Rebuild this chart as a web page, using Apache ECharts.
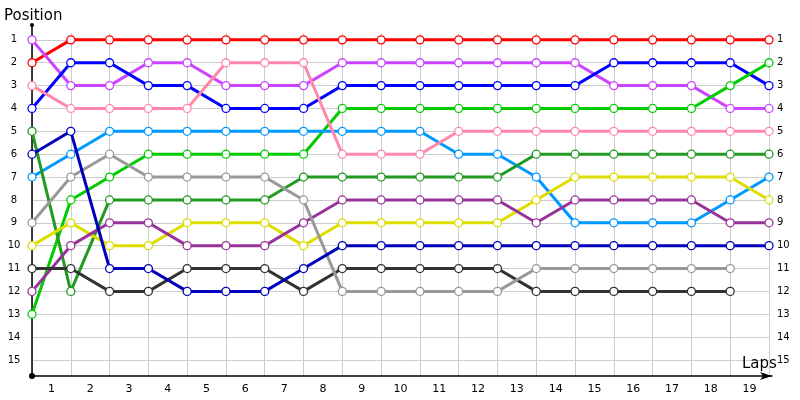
<!DOCTYPE html>
<html>
<head>
<meta charset="utf-8">
<script src="https://cdn.jsdelivr.net/npm/echarts@6/dist/echarts.min.js"></script>
<style>html,body{margin:0;padding:0;background:#fff}#chart{width:800px;height:400px}</style>
</head>
<body>
<div id="chart"></div>
<script>
// Lap points (start + laps 1..19) and the lap labels shown between them
const lapPoints = ['0','1','2','3','4','5','6','7','8','9','10','11','12','13','14','15','16','17','18','19'];
const lapLabels = ['1','2','3','4','5','6','7','8','9','10','11','12','13','14','15','16','17','18','19'];
const positionLabels = ['1','2','3','4','5','6','7','8','9','10','11','12','13','14','15'];

// Positions per driver at each lap point
const driverRed     = [2,1,1,1,1,1,1,1,1,1,1,1,1,1,1,1,1,1,1,1];
const driverViolet  = [1,3,3,2,2,3,3,3,2,2,2,2,2,2,2,3,3,3,4,4];
const driverBlue    = [4,2,2,3,3,4,4,4,3,3,3,3,3,3,3,2,2,2,2,3];
const driverGreen   = [13,8,7,6,6,6,6,6,4,4,4,4,4,4,4,4,4,4,3,2];
const driverSky     = [7,6,5,5,5,5,5,5,5,5,5,6,6,7,9,9,9,9,8,7];
const driverDkGreen = [5,12,8,8,8,8,8,7,7,7,7,7,7,6,6,6,6,6,6,6];
const driverYellow  = [10,9,10,10,9,9,9,10,9,9,9,9,9,8,7,7,7,7,7,8];
const driverPurple  = [12,10,9,9,10,10,10,9,8,8,8,8,8,9,8,8,8,8,9,9];
const driverDkGray  = [11,11,12,12,11,11,11,12,11,11,11,11,11,12,12,12,12,12,12,null];
const driverGray    = [9,7,6,7,7,7,7,8,12,12,12,12,12,11,11,11,11,11,11,null];
const driverPink    = [3,4,4,4,4,2,2,2,6,6,6,5,5,5,5,5,5,5,5,5];
const driverNavy    = [6,5,11,11,12,12,12,11,10,10,10,10,10,10,10,10,10,10,10,10];

const drivers = [
  {name:'Red', data: driverRed, color:'#ff0000'},
  {name:'Violet', data: driverViolet, color:'#cc44ff'},
  {name:'Blue', data: driverBlue, color:'#0000ff'},
  {name:'Green', data: driverGreen, color:'#00cc00'},
  {name:'Sky', data: driverSky, color:'#0099ff'},
  {name:'Dark green', data: driverDkGreen, color:'#229922'},
  {name:'Yellow', data: driverYellow, color:'#dddd00'},
  {name:'Purple', data: driverPurple, color:'#993399'},
  {name:'Dark gray', data: driverDkGray, color:'#333333'},
  {name:'Gray', data: driverGray, color:'#999999'},
  {name:'Pink', data: driverPink, color:'#ff88aa'},
  {name:'Navy', data: driverNavy, color:'#0000bb'}
];

const FONT = 'DejaVu Sans';
const isInt = v => Math.abs(v - Math.round(v)) < 1e-6;
const posFmt = v => isInt(v) && v >= 1 && v <= 15 ? positionLabels[Math.round(v) - 1] : '';

const chart = echarts.init(document.getElementById('chart'), null, {renderer:'canvas'});
chart.setOption({
  animation: false,
  backgroundColor: '#ffffff',
  title: [
    {text: 'Position', left: 4, top: 9, padding: 0, textStyle: {fontFamily: FONT, fontSize: 15, fontWeight: 'normal', color: '#000'}},
    {text: 'Laps', left: 742, top: 357, padding: 0, textStyle: {fontFamily: FONT, fontSize: 15, fontWeight: 'normal', color: '#000'}}
  ],
  grid: [
    {left: 32, right: 31, top: 33, bottom: 24},
    {left: 32, right: 28, top: 25, bottom: 24}
  ],
  xAxis: [
    {
      type: 'category', gridIndex: 0, data: lapPoints, boundaryGap: false,
      axisLine: {show: false}, axisTick: {show: false}, axisLabel: {show: false},
      splitLine: {show: true, interval: 0, lineStyle: {color: '#cccccc', width: 1}}
    },
    {
      type: 'category', gridIndex: 0, data: lapLabels, boundaryGap: true, position: 'bottom', offset: 0,
      axisLine: {show: false}, axisTick: {show: false}, splitLine: {show: false},
      axisLabel: {show: true, interval: 0, margin: 8, color: '#000', fontFamily: FONT, fontSize: 11}
    },
    {
      type: 'value', gridIndex: 1, min: 0, max: 1,
      axisLabel: {show: false}, axisTick: {show: false}, splitLine: {show: false},
      axisLine: {show: true, onZero: false, symbol: ['circle', 'arrow'], symbolSize: [6, 12], lineStyle: {color: '#000', width: 1.5}}
    }
  ],
  yAxis: [
    {
      type: 'value', gridIndex: 0, inverse: true, min: 0.7, max: 15.7, splitNumber: 15, minInterval: 1, maxInterval: 1,
      axisLine: {show: false}, axisTick: {show: false},
      axisLabel: {show: true, margin: 18, align: 'center', color: '#000', fontFamily: FONT, fontSize: 10, formatter: posFmt},
      splitLine: {show: true, showMinLine: false, showMaxLine: false, lineStyle: {color: '#cccccc', width: 1}}
    },
    {
      type: 'value', gridIndex: 0, inverse: true, position: 'right', min: 0.7, max: 15.7, splitNumber: 15, minInterval: 1, maxInterval: 1,
      axisLine: {show: false}, axisTick: {show: false}, splitLine: {show: false},
      axisLabel: {show: true, margin: 8, align: 'left', color: '#000', fontFamily: FONT, fontSize: 10, formatter: posFmt}
    },
    {
      type: 'value', gridIndex: 1, min: 0, max: 1,
      axisLabel: {show: false}, axisTick: {show: false}, splitLine: {show: false},
      axisLine: {show: true, onZero: false, symbol: ['circle', 'circle'], symbolSize: [4, 4], lineStyle: {color: '#000', width: 1.5}}
    }
  ],
  series: drivers.map(d => ({
    name: d.name,
    type: 'line',
    xAxisIndex: 0,
    yAxisIndex: 0,
    data: d.data,
    symbol: 'circle',
    symbolSize: 8,
    showAllSymbol: true,
    lineStyle: {color: d.color, width: 3},
    itemStyle: {color: '#ffffff', borderColor: d.color, borderWidth: 1.3},
    emphasis: {disabled: true}
  }))
});
</script>
</body>
</html>
